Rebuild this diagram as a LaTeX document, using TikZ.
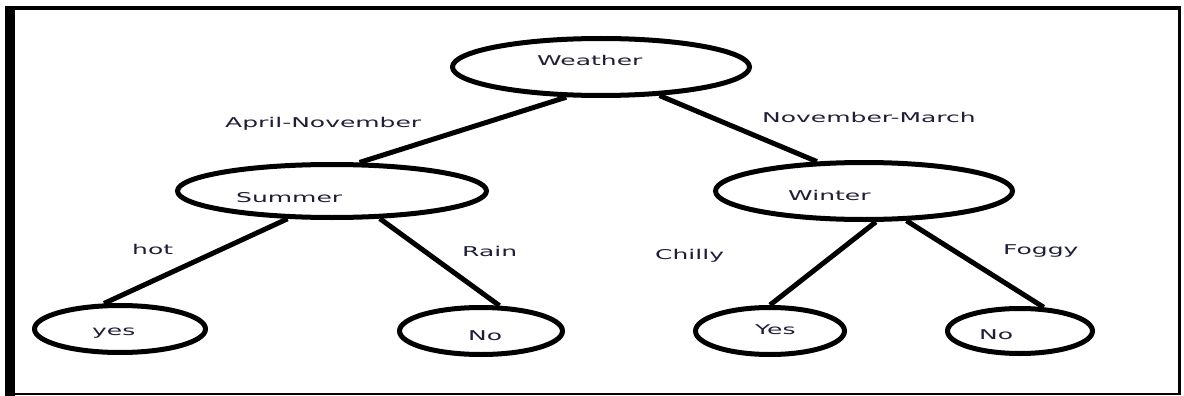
\documentclass[tikz,border=0pt]{standalone}
\usepackage{fontspec}
\setmainfont{DejaVu Sans}
\usetikzlibrary{shapes.geometric}
\definecolor{txt}{RGB}{30,30,55}
\newcommand\wt[1]{\scalebox{1.85}[1]{#1}}
\begin{document}
\begin{tikzpicture}[x=1pt,y=-1pt,
  el/.style={draw=black, line width=5pt, ellipse, inner sep=0pt, fill=white},
  lbl/.style={anchor=base west, inner sep=0pt, text=txt, font=\fontsize{13.5}{16}\selectfont},
  edge/.style={line width=5pt, draw=black}]
\useasboundingbox (0,0) rectangle (1184,396);
\fill[white] (0,0) rectangle (1184,396);
% frame
\draw[line width=10pt] (10,6) -- (10,396);
\draw[line width=4pt] (5,8) -- (1181,8);
\draw[line width=3pt] (1179.5,6) -- (1179.5,395);
\draw[line width=2pt] (5,394) -- (1181,394);
% ellipses
\node[el, minimum width=297pt, minimum height=57pt] (weather) at (601,67) {};
\node[el, minimum width=309pt, minimum height=53pt] (summer) at (332,191) {};
\node[el, minimum width=297pt, minimum height=57pt] (winter) at (864,191) {};
\node[el, minimum width=171pt, minimum height=47pt] (yes1) at (120,329) {};
\node[el, minimum width=163pt, minimum height=47pt] (no1) at (481,331) {};
\node[el, minimum width=149pt, minimum height=47pt] (yes2) at (770,331) {};
\node[el, minimum width=145pt, minimum height=45pt] (no2) at (1020,331) {};
% connectors
\draw[edge] (weather.221) -- (summer.46);
\draw[edge] (weather.334) -- (winter.148);
\draw[edge] (summer.212) -- (yes1.122);
\draw[edge] (summer.330) -- (no1.54);
\draw[edge] (winter.291) -- (yes2.90);
\draw[edge] (winter.325) -- (no2.45);
% texts in ellipses
\node[lbl] (tweather) at (537,66) {\wt{Weather}};
\node[lbl] (tsummer) at (236,202) {\wt{Summer}};
\node[lbl] (twinter) at (788,200) {\wt{Winter}};
\node[lbl] (tyes1) at (92,335) {\wt{yes}};
\node[lbl] (tno1) at (468,340) {\wt{No}};
\node[lbl] (tyes2) at (755,334) {\wt{Yes}};
\node[lbl] (tno2) at (979,339) {\wt{No}};
% edge labels
\node[lbl] (lapr) at (225,128) {\wt{April-November}};
\node[lbl] (lnov) at (762,122) {\wt{November-March}};
\node[lbl] (lhot) at (132,254) {\wt{hot}};
\node[lbl] (lrain) at (462,256) {\wt{Rain}};
\node[lbl] (lchilly) at (655,259) {\wt{Chilly}};
\node[lbl] (lfoggy) at (1003,254) {\wt{Foggy}};
\end{tikzpicture}
\end{document}
